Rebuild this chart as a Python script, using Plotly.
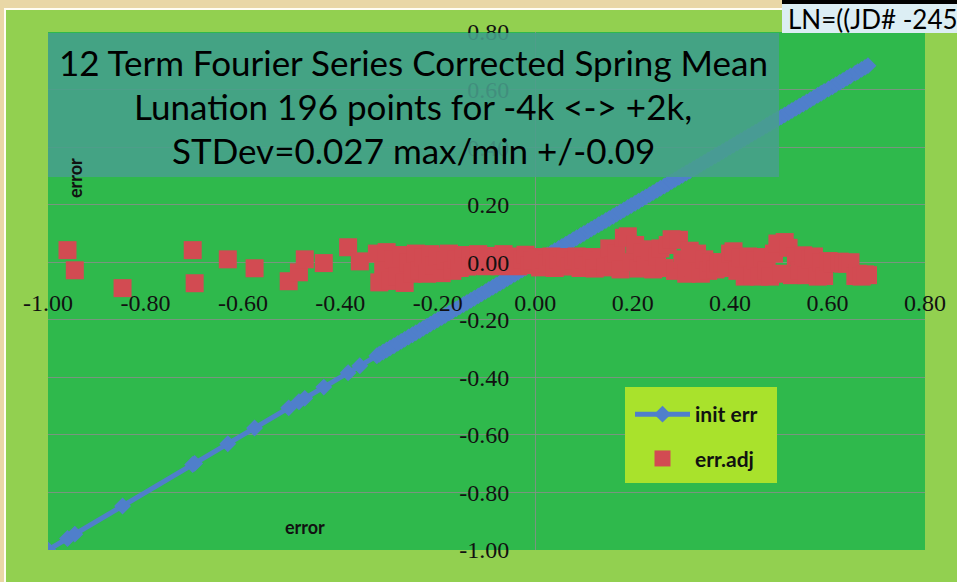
import plotly.graph_objects as go

# ---------------------------------------------------------------------------
# data (x = initial error, red = adjusted error)
init_err = [-1.000, -0.960, -0.945, -0.847, -0.703, -0.699, -0.631, -0.576, -0.506, -0.485,
            -0.473, -0.434, -0.384, -0.360,
            -0.325, -0.320, -0.312, -0.305, -0.298, -0.290, -0.282, -0.275, -0.268, -0.260,
            -0.252, -0.245, -0.237, -0.230, -0.222, -0.215, -0.207, -0.200, -0.192, -0.185,
            -0.177, -0.170, -0.162, -0.155, -0.147, -0.140, -0.132, -0.125, -0.117, -0.110,
            -0.102, -0.095, -0.087, -0.080, -0.072, -0.065, -0.057, -0.050, -0.042, -0.035,
            -0.027, -0.020, -0.012, -0.005, 0.003, 0.010, 0.018, 0.025, 0.033, 0.040,
            0.048, 0.055, 0.063, 0.070, 0.078, 0.085, 0.093, 0.100, 0.108, 0.115,
            0.122, 0.130, 0.137, 0.145, 0.152, 0.160, 0.167, 0.175, 0.182, 0.190,
            0.197, 0.205, 0.212, 0.220, 0.227, 0.235, 0.242, 0.250, 0.257, 0.265,
            0.272, 0.280, 0.287, 0.295, 0.302, 0.310, 0.317, 0.325, 0.332, 0.340,
            0.347, 0.355, 0.362, 0.370, 0.377, 0.385, 0.392, 0.400, 0.407, 0.415,
            0.422, 0.430, 0.437, 0.445, 0.452, 0.460, 0.467, 0.475, 0.482, 0.490,
            0.497, 0.505, 0.512, 0.520, 0.527, 0.535, 0.542, 0.550, 0.557, 0.565,
            0.572, 0.580, 0.587, 0.593, 0.602, 0.610, 0.617, 0.625, 0.632, 0.640,
            0.647, 0.657, 0.662, 0.670, 0.677, 0.683]

err_adj = [None, 0.042, -0.028, -0.090, 0.042, -0.073, 0.010, -0.021, -0.066, -0.035,
           0.010, -0.003, 0.052, 0.003,
           0.030, -0.070, -0.020, 0.035, -0.065, 0.010, -0.050, 0.025, -0.072, 0.000,
           -0.040, 0.030, -0.030, 0.015, -0.040, 0.028, -0.010, 0.020, -0.038, 0.005,
           0.030, -0.030, 0.010, -0.020, 0.025, -0.015, 0.020, -0.012, 0.028, 0.000,
           -0.014, 0.022, -0.010, 0.015, -0.014, 0.028, 0.000, -0.012, 0.020, -0.014,
           0.010, 0.026, -0.010, 0.005, 0.018, -0.018, 0.010, -0.005, 0.020, -0.020,
           0.008, -0.012, 0.018, -0.015, 0.005, 0.020, -0.020, 0.010, -0.010, 0.018,
           -0.022, 0.005, 0.015, -0.018, 0.048, -0.010, 0.030, -0.025, 0.085, 0.090,
           0.000, 0.060, -0.022, 0.035, -0.010, 0.045, -0.025, 0.020, 0.048, -0.020,
           0.060, 0.080, -0.030, 0.078, 0.010, -0.040, 0.040, -0.020, 0.030, -0.040,
           0.010, -0.030, 0.000, -0.025, -0.005, 0.000, -0.020, 0.030, 0.038, -0.030,
           0.015, -0.050, 0.020, -0.045, 0.005, -0.050, 0.018, -0.030, -0.050, 0.030,
           0.065, -0.040, 0.070, 0.050, -0.045, 0.020, -0.030, 0.024, -0.045, 0.010,
           0.020, -0.050, 0.000, -0.048, 0.004, -0.003, -0.003, 0.002, -0.005, -0.005,
           0.000, -0.048, -0.040, -0.050, -0.042, -0.045]

axis_ticks = [-1.0, -0.8, -0.6, -0.4, -0.2, 0.0, 0.2, 0.4, 0.6, 0.8]
axis_labels = ["-1.00", "-0.80", "-0.60", "-0.40", "-0.20", "0.00", "0.20", "0.40", "0.60", "0.80"]

title_lines = ["12 Term Fourier Series Corrected Spring Mean",
               "Lunation 196 points for -4k <-> +2k,",
               "STDev=0.027 max/min +/-0.09"]

# ---------------------------------------------------------------------------
W, H = 957, 582
ML, MR, MT, MB = 48, 32, 32, 32
PW, PH = W - ML - MR, H - MT - MB


def px(x):
    return (x - ML) / PW


def py(y):
    return (H - MB - y) / PH


BLUE = '#4F7FCB'
RED = '#D24B52'
GRID = 'rgba(140,140,140,0.8)'

fig = go.Figure()

fig.add_trace(
    go.Scatter(
        x=init_err,
        y=init_err,
        mode='lines+markers',
        line=dict(color=BLUE, width=5),
        marker=dict(symbol='diamond', size=13, color=BLUE),
        name='<b>init err</b>',
        legendgroup='a'
    )
)
fig.add_trace(
    go.Scatter(
        x=init_err,
        y=err_adj,
        mode='markers',
        marker=dict(symbol='square', size=18, color=RED),
        name='<b>err.adj</b>',
        legendgroup='b'
    )
)

shapes = [
    # title box
    dict(type='rect', xref='paper', yref='paper', x0=px(48), x1=px(779), y0=py(177), y1=py(33),
         fillcolor='#489F8C', opacity=0.88, line_width=0, layer='above'),
    # legend box
    dict(type='rect', xref='paper', yref='paper', x0=px(625), x1=px(777), y0=py(483), y1=py(387),
         fillcolor='#A9E22C', line_width=0, layer='above'),
    # top decorative border
    dict(type='rect', xref='paper', yref='paper', x0=px(0), x1=px(957), y0=py(8), y1=py(0),
         fillcolor='#E9D7A6', line_width=0, layer='above'),
    dict(type='rect', xref='paper', yref='paper', x0=px(0), x1=px(957), y0=py(10), y1=py(8),
         fillcolor='#FFFDF2', line_width=0, layer='above'),
    dict(type='rect', xref='paper', yref='paper', x0=px(0), x1=px(4), y0=py(582), y1=py(0),
         fillcolor='#E9D7A6', line_width=0, layer='above'),
    dict(type='rect', xref='paper', yref='paper', x0=px(4), x1=px(6), y0=py(582), y1=py(10),
         fillcolor='#FFFDF2', line_width=0, layer='above'),
    # LN text box
    dict(type='rect', xref='paper', yref='paper', x0=px(782), x1=px(957), y0=py(33), y1=py(0),
         fillcolor='#DCEEF4', line_width=0, layer='above'),
    dict(type='rect', xref='paper', yref='paper', x0=px(782), x1=px(957), y0=py(4), y1=py(0),
         fillcolor='#000000', line_width=0, layer='above'),
]

annotations = []
for i, t in enumerate(title_lines):
    annotations.append(dict(
        text=t, xref='paper', yref='paper', x=px(413), y=py(62 + i * 44),
        xanchor='center', yanchor='middle', showarrow=False,
        font=dict(family='Lato', size=35, color='#000000')
    ))
annotations.append(dict(
    text='LN=((JD# -2451550.1)/29.530588853', xref='paper', yref='paper',
    x=px(786), y=py(19), xanchor='left', yanchor='middle', showarrow=False,
    font=dict(family='Lato', size=26, color='#000000')
))
annotations.append(dict(
    text='<b>error</b>', xref='paper', yref='paper', x=px(305), y=py(527),
    xanchor='center', yanchor='middle', showarrow=False,
    font=dict(family='Lato', size=18, color='#111111')
))
annotations.append(dict(
    text='<b>error</b>', xref='paper', yref='paper', x=px(75), y=py(178),
    xanchor='center', yanchor='middle', showarrow=False, textangle=-90,
    font=dict(family='Lato', size=18, color='#111111')
))

fig.update_xaxes(
    range=[-1, 0.8], tickvals=axis_ticks, ticktext=axis_labels,
    anchor='free', position=1 / 1.8, showgrid=False,
    zeroline=True, zerolinecolor=GRID, zerolinewidth=1,
    showline=False, ticks='', ticklabelstandoff=24,
    tickfont=dict(family='Liberation Serif', size=24, color='#111111')
)
fig.update_yaxes(
    range=[-1, 0.8], tickvals=axis_ticks, ticktext=axis_labels,
    anchor='free', position=1 / 1.8, showgrid=True, gridcolor=GRID,
    gridwidth=1, zeroline=True, zerolinecolor=GRID, zerolinewidth=1,
    showline=False, ticks='', ticklabelstandoff=26,
    tickfont=dict(family='Liberation Serif', size=24, color='#111111')
)

fig.update_layout(
    width=W, height=H,
    margin=dict(l=ML, r=MR, t=MT, b=MB, pad=0),
    paper_bgcolor='#92D050',
    plot_bgcolor='#2FB94C',
    showlegend=True,
    legend=dict(
        x=px(630), y=py(394), xanchor='left', yanchor='top',
        bgcolor='rgba(0,0,0,0)', borderwidth=0,
        font=dict(family='Lato', size=21, color='#111111'),
        tracegroupgap=14, itemwidth=55
    ),
    shapes=shapes,
    annotations=annotations
)

# the page body has a default 8px margin; drop it so the figure sits at the window origin
fig.write_html("out.html", config={'displayModeBar': False},
               post_script="document.body.style.margin='0px';")
